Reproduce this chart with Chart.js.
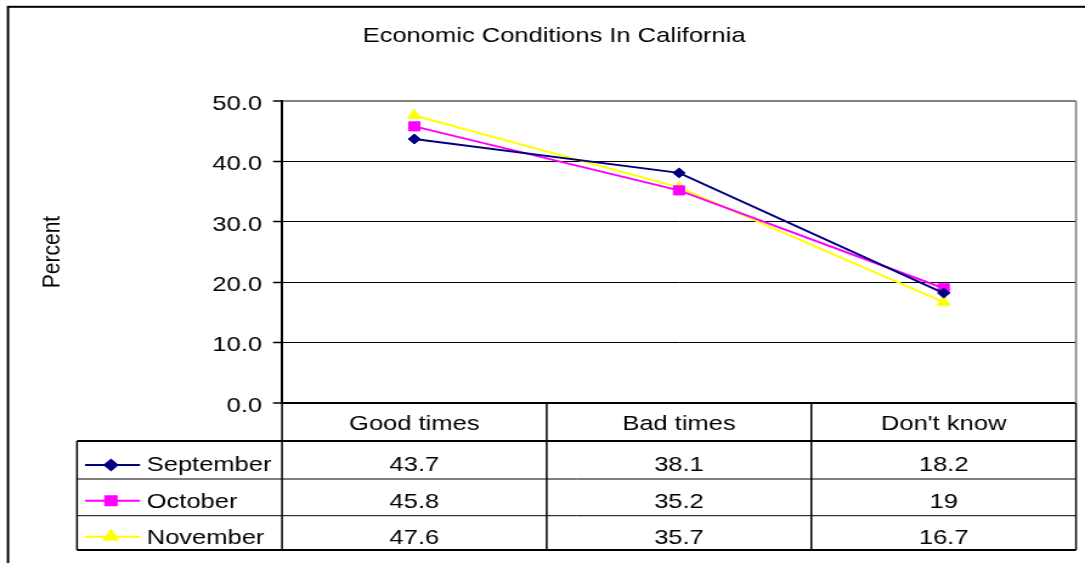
<!DOCTYPE html>
<html>
<head>
<meta charset="utf-8">
<script src="https://cdn.jsdelivr.net/npm/chart.js@4/dist/chart.umd.min.js"></script>
<style>
  html, body { margin: 0; padding: 0; background: #fff; overflow: hidden; }
  /* the source picture is stretched sideways, so the canvas is too */
  #wrap { width: 893px; height: 563px; transform: scaleX(1.21501); transform-origin: 0 0; }
</style>
</head>
<body>
<div id="wrap"><canvas id="chart" width="893" height="563"></canvas></div>
<script>
// ── data ──
const categories  = ["Good times", "Bad times", "Don't know"];
const seriesNames = ["September", "October", "November"];
const september   = [43.7, 38.1, 18.2];
const october     = [45.8, 35.2, 19];
const november    = [47.6, 35.7, 16.7];
const yTicks      = [0, 10, 20, 30, 40, 50];

// ── look ──
const S = 1085 / 893;                 // horizontal stretch of the picture
const px = (v) => v / S;              // picture x → canvas x
const COLORS = ["#000080", "#ff00ff", "#ffff00"];
const STYLES = ["rectRot", "rect", "triangle"];
const RADII  = [5, 6.4, 6.2];
const FONT = "'Liberation Sans', Arial, sans-serif";

Chart.defaults.font.family = FONT;
Chart.defaults.font.size = 21;
Chart.defaults.color = "#000";

// table geometry (picture pixels)
const ROW_LINES = [441, 479, 515.7, 550];
const ROW_TEXT  = [470.5, 507.5, 544.3];   // baselines
const ROW_MARK  = [465, 500.7, 536.7];
const LEGEND_LEFT = px(77);

const seriesData = [september, october, november];

// ─────────────────────────────────────────────
//  Data table under the plot (Excel style)
// ─────────────────────────────────────────────
const dataTable = {
  id: "dataTable",
  afterDraw(chart) {
    const { ctx, chartArea: a, scales: { x } } = chart;
    const half = (x.getPixelForValue(1) - x.getPixelForValue(0)) / 2;
    const edges = categories.map((c, i) => x.getPixelForValue(i) - half).concat(a.right);
    const bottom = ROW_LINES[ROW_LINES.length - 1];

    ctx.save();
    // outer frame (only left/top are inside the picture)
    ctx.strokeStyle = "#000";
    ctx.lineWidth = 2;
    ctx.strokeRect(px(8), 6.8, 1000, 700);

    // grey plot border on the right
    ctx.strokeStyle = "#808080";
    ctx.lineWidth = 1.7;
    ctx.beginPath();
    ctx.moveTo(a.right, a.top);
    ctx.lineTo(a.right, a.bottom);
    ctx.stroke();

    // vertical table lines
    ctx.strokeStyle = "#000";
    ctx.lineWidth = 1.5;
    ctx.beginPath();
    edges.forEach((ex) => { ctx.moveTo(ex, a.bottom); ctx.lineTo(ex, bottom); });
    ctx.moveTo(LEGEND_LEFT, ROW_LINES[0]);
    ctx.lineTo(LEGEND_LEFT, bottom);
    ctx.stroke();

    // horizontal table lines
    ROW_LINES.forEach((y, i) => {
      ctx.lineWidth = (i === 0 || i === ROW_LINES.length - 1) ? 2 : 1;
      ctx.beginPath();
      ctx.moveTo(LEGEND_LEFT, y);
      ctx.lineTo(a.right, y);
      ctx.stroke();
    });

    // rows: legend sample + values
    ctx.font = "21px " + FONT;
    ctx.textBaseline = "alphabetic";
    seriesNames.forEach((name, i) => {
      const my = ROW_MARK[i];
      ctx.strokeStyle = COLORS[i];
      ctx.lineWidth = 2;
      ctx.beginPath();
      ctx.moveTo(px(85), my);
      ctx.lineTo(px(140), my);
      ctx.stroke();
      ctx.fillStyle = COLORS[i];
      Chart.helpers.drawPoint(ctx, {
        pointStyle: STYLES[i], radius: RADII[i], rotation: 0, borderWidth: 1,
      }, px(111), my);
      ctx.fill();

      ctx.fillStyle = "#000";
      ctx.textAlign = "left";
      ctx.fillText(name, px(146.7), ROW_TEXT[i]);
      ctx.textAlign = "center";
      seriesData[i].forEach((v, j) => {
        ctx.fillText(String(v), x.getPixelForValue(j), ROW_TEXT[i]);
      });
    });
    ctx.restore();
  },
};

new Chart(document.getElementById("chart"), {
  type: "line",
  data: {
    labels: categories,
    datasets: seriesNames.map((name, i) => ({
      label: name,
      data: seriesData[i],
      borderColor: COLORS[i],
      backgroundColor: COLORS[i],
      borderWidth: 2,
      pointStyle: STYLES[i],
      pointRadius: RADII[i],
      pointBorderWidth: 1,
      tension: 0,
    })),
  },
  options: {
    responsive: false,
    animation: false,
    layout: { padding: { left: 24.8, right: 5.8, top: 0, bottom: 0 } },
    plugins: {
      legend: { display: false },
      tooltip: { enabled: false },
      title: {
        display: true,
        text: "Economic Conditions In California",
        color: "#000",
        font: { size: 21, weight: "normal" },
        padding: { top: 24, bottom: 51.8 },
      },
    },
    scales: {
      x: {
        offset: true,
        grid: { display: false },
        border: { display: false },
        ticks: { padding: 1, color: "#000", maxRotation: 0 },
        afterFit: (s) => { s.height = 160; },
      },
      y: {
        min: 0,
        max: 50,
        afterBuildTicks: (s) => { s.ticks = yTicks.map((v) => ({ value: v })); },
        afterFit: (s) => { s.width = px(282) - 24.8; },
        border: { display: true, color: "#000", width: 2 },
        grid: {
          color: (c) => (c.tick && c.tick.value === 50 ? "#808080" : "#000"),
          lineWidth: (c) => (c.tick && (c.tick.value === 50 || c.tick.value === 0) ? 2 : 1),
          tickLength: px(9),
          tickColor: "#000",
          tickWidth: 1.5,
        },
        ticks: {
          padding: 9,
          labelOffset: 3,
          color: "#000",
          callback: (v) => Number(v).toFixed(1),
        },
        title: {
          display: true,
          text: "Percent",
          color: "#000",
          font: { size: 21 },
          padding: { top: 5.6, bottom: 0 },
        },
      },
    },
  },
  plugins: [dataTable],
});
</script>
</body>
</html>
